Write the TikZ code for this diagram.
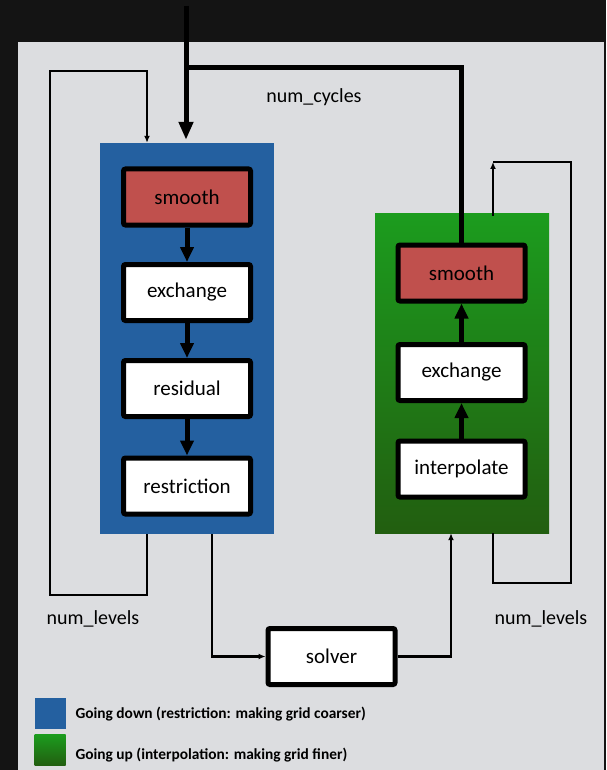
\documentclass[tikz,border=0pt]{standalone}
\usepackage{fontspec}
\setmainfont{Carlito}
\usetikzlibrary{arrows.meta}

\definecolor{bgdark}{HTML}{141414}
\definecolor{panel}{HTML}{DCDDE0}
\definecolor{downblue}{HTML}{2460A0}
\definecolor{smoothred}{HTML}{C0504D}
\definecolor{upgreentop}{HTML}{1C9C1E}
\definecolor{upgreenbot}{HTML}{225E10}

\tikzset{
  stage/.style={draw=black, line width=5pt, rounded corners=2pt, fill=white,
    minimum width=127pt, minimum height=56pt, inner sep=0pt,
    font=\fontsize{21}{25}\selectfont},
  smoothstage/.style={stage, fill=smoothred},
  flow/.style={line width=5pt, -{Triangle[length=15pt,width=13pt]}},
  wire/.style={line width=2.5pt},
  wirearrow/.style={wire, -{Latex[length=7pt,width=6pt]}},
  note/.style={font=\fontsize{20}{24}\selectfont},
  keytext/.style={anchor=west, font=\bfseries\fontsize{15.4}{18}\selectfont},
}

\begin{document}
\begin{tikzpicture}[x=1pt,y=-1pt]
        \useasboundingbox (0,0) rectangle (606,770);
        \fill[bgdark] (0,0) rectangle (606,770);
        \fill[panel] (18,42) rectangle (604,770);

        %% the two halves of the cycle
        \node[fill=downblue, minimum width=174pt, minimum height=391pt, inner sep=0pt]
          (down) at (187,338.5) {};
        \node[top color=upgreentop, bottom color=upgreenbot, minimum width=174pt,
          minimum height=320pt, inner sep=0pt] (up) at (462,373) {};

        \node[smoothstage] (smooth1) at (187,197)   {smooth};
        \node[stage]       (exch1)   at (187,292.5) {exchange};
        \node[stage]       (resid)   at (187,388.5) {residual};
        \node[stage]       (restr)   at (187,486)   {restriction};

        \node[smoothstage] (smooth2) at (461.5,273)   {smooth};
        \node[stage]       (exch2)   at (461.5,372.5) {exchange};
        \node[stage]       (interp)  at (461.5,469)   {interpolate};

        \node[stage] (solver) at (331.5,656.5) {solver};

        \node[note] (cycles)  at (314,97)  {num\_cycles};
        \node[note] (levelsl) at (93,619)  {num\_levels};
        \node[note] (levelsr) at (541,619) {num\_levels};

        \draw[flow] (smooth1) -- (exch1);
        \draw[flow] (exch1) -- (resid);
        \draw[flow] (resid) -- (restr);
        \draw[flow] (interp) -- (exch2);
        \draw[flow] (exch2) -- (smooth2);

        %% outer cycle
        \coordinate (in)  at (186,6);
        \coordinate (cyc) at (186,68);
        \draw[line width=5pt, -{Triangle[length=18pt,width=14pt]}, shorten >=3pt]
          (in) -- (in |- down.north);
        \draw[line width=5pt] (cyc) -| (smooth2.north);

        %% level loops
        \coordinate (llb) at (50,595);
        \coordinate (llt) at (147,71);
        \draw[wirearrow] (llt |- down.south) |- (llb) |- (llt) -- (llt |- down.north);
        \coordinate (rlb) at (571,583);
        \coordinate (rlt) at (493,162);
        \draw[wire] (rlt |- up.south) |- (rlb) |- (rlt);
        \draw[wirearrow] ([yshift=-3pt]rlt |- up.north) -- (rlt);

        %% coarsest level
        \draw[wirearrow] ([xshift=25pt]down.south) |- (solver.west);
        \draw[wirearrow] (solver.east) -| ([xshift=-11pt]up.south);

        %% key
        \node[fill=downblue, minimum size=31pt, inner sep=0pt] (keydown) at (50,713) {};
        \node[top color=upgreentop, bottom color=upgreenbot, minimum size=31pt,
          inner sep=0pt] (keyup) at (50,750) {};
        \node[keytext] (keydowntext) at (72,714) {Going down (restriction: making grid coarser)};
        \node[keytext] (keyuptext)   at (72,755) {Going up (interpolation: making grid finer)};
\end{tikzpicture}
\end{document}
